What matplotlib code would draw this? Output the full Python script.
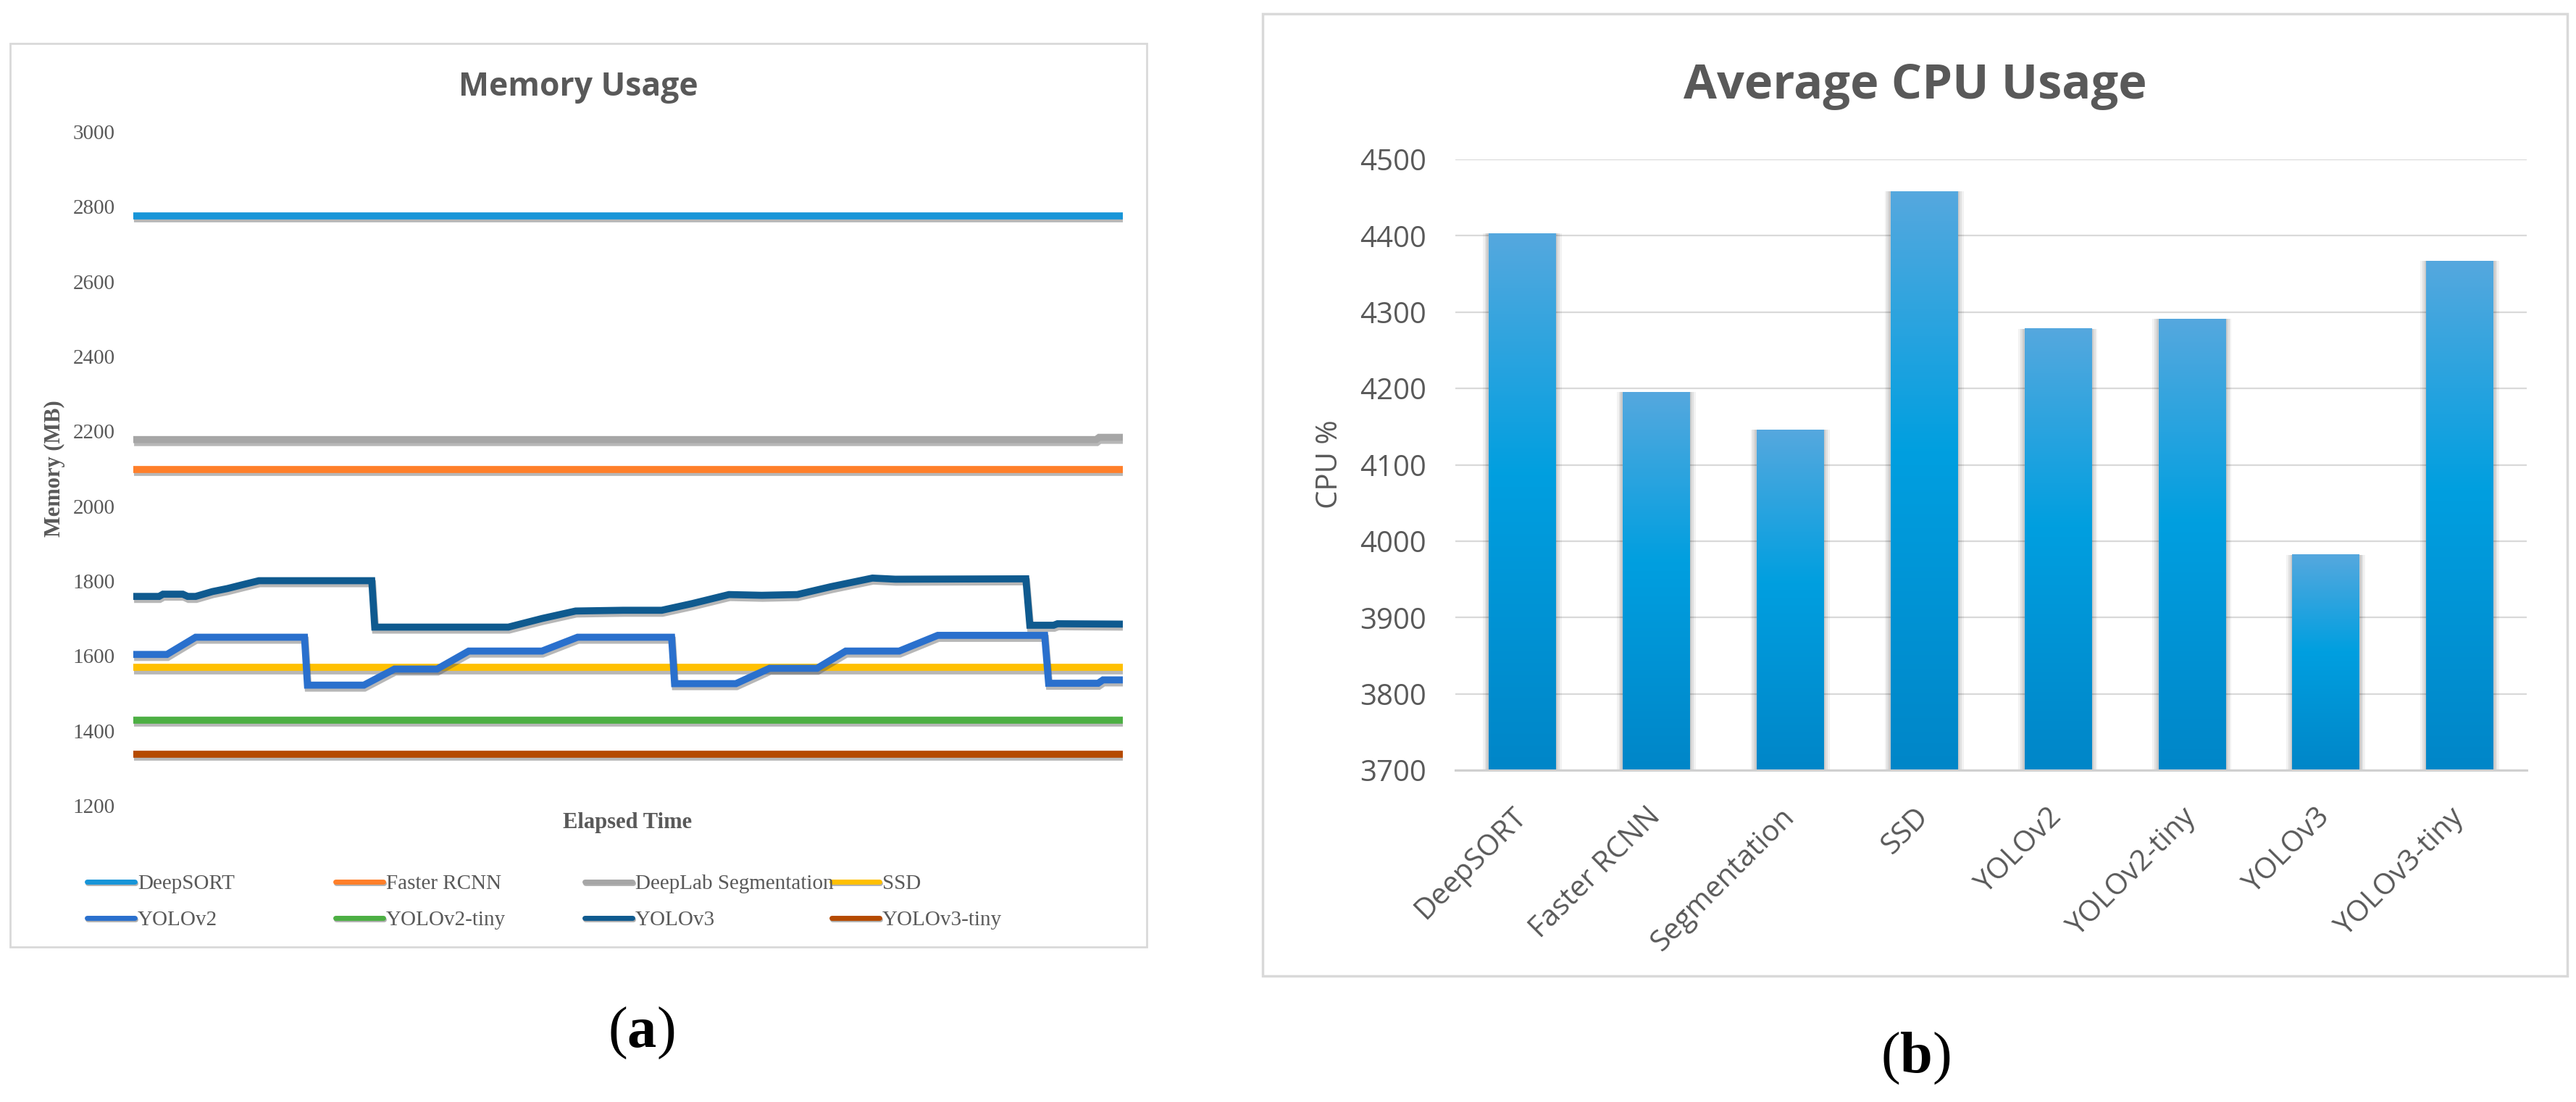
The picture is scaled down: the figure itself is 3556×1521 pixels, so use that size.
import numpy as np
import matplotlib
matplotlib.use('Agg')
import matplotlib.pyplot as plt
import matplotlib.patheffects as pe
from matplotlib.colors import LinearSegmentedColormap
from matplotlib.patches import Rectangle
from matplotlib.lines import Line2D

plt.rcParams['mathtext.fontset'] = 'custom'
plt.rcParams['mathtext.rm'] = 'Liberation Serif'
plt.rcParams['mathtext.bf'] = 'Liberation Serif:bold'

# ---- (a) memory usage (time axis 0..100, no ticks) ----
mem_names = ['DeepSORT', 'Faster RCNN', 'DeepLab Segmentation', 'SSD',
             'YOLOv2', 'YOLOv2-tiny', 'YOLOv3', 'YOLOv3-tiny']
mem_colors = ['#1795d8', '#ff7f2a', '#a6a6a6', '#ffc000',
              '#2a70cd', '#4caf43', '#0f5a8f', '#b54a00']

deepsort_t = [0, 100]
deepsort_mb = [2775, 2775]
frcnn_t = [0, 100]
frcnn_mb = [2099, 2099]
deeplab_t = [0, 97.3, 97.6, 100]
deeplab_mb = [2178, 2178, 2184, 2184]
ssd_t = [0, 100]
ssd_mb = [1569, 1569]
yolov2_t = [0, 3.4, 6.3, 17.3, 17.6, 23.3, 26.4, 30.7, 33.9, 41.3, 44.9, 54.4,
            54.7, 60.9, 64.3, 69.1, 72.0, 77.4, 81.3, 92.1, 92.5, 97.5, 98.0, 100]
yolov2_mb = [1604, 1604, 1650, 1650, 1522, 1522, 1565, 1565, 1613, 1613, 1650, 1650,
             1526, 1526, 1567, 1567, 1613, 1613, 1655, 1655, 1527, 1527, 1536, 1536]
yolov2tiny_t = [0, 100]
yolov2tiny_mb = [1429, 1429]
yolov3_t = [0, 2.6, 3.0, 5.0, 5.5, 6.3, 8.0, 9.5, 11.0, 12.7, 24.1, 24.4, 37.9,
            41.3, 44.7, 49.5, 53.4, 56.5, 60.2, 63.5, 67.1, 70.5, 74.7, 77.0,
            90.2, 90.6, 93.0, 93.4, 100]
yolov3_mb = [1759, 1759, 1765, 1765, 1759, 1759, 1772, 1780, 1790, 1801, 1801, 1677, 1677,
             1700, 1720, 1722, 1722, 1740, 1764, 1762, 1764, 1785, 1808, 1805,
             1806, 1682, 1682, 1686, 1685]
yolov3tiny_t = [0, 100]
yolov3tiny_mb = [1337, 1337]

mem_t = [deepsort_t, frcnn_t, deeplab_t, ssd_t, yolov2_t, yolov2tiny_t, yolov3_t, yolov3tiny_t]
mem_mb = [deepsort_mb, frcnn_mb, deeplab_mb, ssd_mb, yolov2_mb, yolov2tiny_mb, yolov3_mb, yolov3tiny_mb]
mem_yticks = list(range(1200, 3001, 200))

# ---- (b) average CPU usage ----
cpu_models = ['DeepSORT', 'Faster RCNN', 'Segmentation', 'SSD',
              'YOLOv2', 'YOLOv2-tiny', 'YOLOv3', 'YOLOv3-tiny']
cpu_usage = [4403, 4195, 4146, 4458, 4278, 4291, 3982, 4367]
cpu_yticks = list(range(3700, 4501, 100))

W, H = 3556, 1521
GRAY = '#595959'
SERIF = 'Liberation Serif'
SANS = 'Open Sans'

fig = plt.figure(figsize=(W / 100, H / 100), dpi=100)


def fx(px):
    return px / W


def fy(py):
    return 1 - py / H


# panel frames
fig.add_artist(Rectangle((fx(14), fy(1307)), fx(1569), 1247 / H, transform=fig.transFigure,
                         fill=False, edgecolor='#d9d9d9', lw=2))
fig.add_artist(Rectangle((fx(1743), fy(1347)), fx(1801), 1328 / H, transform=fig.transFigure,
                         fill=False, edgecolor='#d9d9d9', lw=2.5))

line_shadow = [pe.SimpleLineShadow(offset=(0.8, -3), shadow_color='0.3', alpha=0.4), pe.Normal()]

# ---------- left: memory usage ----------
axL = fig.add_axes([fx(184), fy(1112), fx(1550 - 184), (1112 - 182) / H])
for t, mb, c in zip(mem_t, mem_mb, mem_colors):
    axL.plot(t, mb, color=c, lw=7, solid_capstyle='butt', solid_joinstyle='miter',
             path_effects=line_shadow)
axL.set_xlim(0, 100)
axL.set_ylim(1200, 3000)
axL.set_xticks([])
axL.set_yticks(mem_yticks)
axL.set_yticklabels([str(v) for v in mem_yticks], family=SERIF, fontsize=21, color=GRAY)
axL.tick_params(axis='y', length=0, pad=18)
for s in axL.spines.values():
    s.set_visible(False)
axL.patch.set_alpha(0)

fig.text(fx(798), fy(132), 'Memory Usage', ha='center', va='baseline',
         family=SANS, fontweight='bold', fontsize=32, color=GRAY)
fig.text(fx(866), fy(1135), 'Elapsed Time', ha='center', va='center',
         family=SERIF, fontweight='bold', fontsize=22, color=GRAY)
fig.text(fx(75), fy(647), 'Memory (MB)', ha='center', va='center', rotation=90,
         family=SERIF, fontweight='bold', fontsize=22, color=GRAY)

# legend drawn as Excel does: equal width columns, row-major order
leg_x = [120, 463, 807, 1148]
leg_y = [1217, 1267]
for i, (name, c) in enumerate(zip(mem_names, mem_colors)):
    r, k = divmod(i, 4)
    x0, y0 = fx(leg_x[k]), fy(leg_y[r])
    fig.add_artist(Line2D([x0, x0 + fx(66)], [y0, y0], transform=fig.transFigure, color=c,
                          lw=5, solid_capstyle='round',
                          path_effects=[pe.SimpleLineShadow(offset=(0.5, -1.5), alpha=0.3),
                                        pe.Normal()]))
    fig.text(x0 + fx(70), y0, name, ha='left', va='center_baseline',
             family=SERIF, fontsize=21, color=GRAY)

fig.text(fx(885), fy(1426), r'($\mathbf{a}$)', ha='center', va='center',
         family=SERIF, fontsize=58, color='black')

# ---------- right: average CPU usage ----------
axR = fig.add_axes([fx(2009), fy(1063), fx(3488 - 2009), (1063 - 220) / H])
x = np.arange(len(cpu_models))
bar_w = 0.5
# soft shadow around the bars
for extra, a in [(0.09, 0.05), (0.06, 0.07), (0.03, 0.09)]:
    axR.bar(x, np.array(cpu_usage) - 3700, bottom=3700, width=bar_w + extra,
            color='black', alpha=a, zorder=2, lw=0)
bars = axR.bar(x, np.array(cpu_usage) - 3700, bottom=3700, width=bar_w,
               color='#009ee0', zorder=3, lw=0)
grad = LinearSegmentedColormap.from_list('bar', [(0, '#0086c8'), (0.55, '#009fe0'), (1, '#55a8de')])
ramp = np.linspace(0, 1, 256).reshape(-1, 1)
for b in bars:
    x0 = b.get_x()
    axR.imshow(ramp, cmap=grad, origin='lower', aspect='auto', zorder=4,
               extent=(x0, x0 + b.get_width(), b.get_y(), b.get_y() + b.get_height()))

axR.set_xlim(-0.5, len(cpu_models) - 0.5)
axR.set_ylim(3700, 4500)
axR.set_yticks(cpu_yticks)
axR.set_yticklabels([str(v) for v in cpu_yticks], family=SANS, fontsize=29, color=GRAY)
axR.set_xticks(x)
axR.set_xticklabels(cpu_models, rotation=45, ha='right', va='center', rotation_mode='anchor',
                    family=SANS, fontsize=29, color=GRAY)
axR.tick_params(axis='y', length=0, pad=29)
axR.tick_params(axis='x', length=0, pad=42)
axR.yaxis.grid(True, color='#d9d9d9', lw=1.6)
axR.set_axisbelow(True)
for k in ['top', 'right', 'left']:
    axR.spines[k].set_visible(False)
axR.spines['bottom'].set_color('#d0d0d0')
axR.spines['bottom'].set_linewidth(2.2)
axR.spines['bottom'].set_zorder(5)
axR.patch.set_alpha(0)

fig.text(fx(2644), fy(136), 'Average CPU Usage', ha='center', va='baseline',
         family=SANS, fontweight='bold', fontsize=48, color=GRAY)
fig.text(fx(1836), fy(641), 'CPU %', ha='center', va='center', rotation=90,
         family=SANS, fontsize=29, color=GRAY)

fig.text(fx(2644), fy(1461), r'($\mathbf{b}$)', ha='center', va='center',
         family=SERIF, fontsize=58, color='black')

fig.savefig('out.png', dpi=100, facecolor='white')
